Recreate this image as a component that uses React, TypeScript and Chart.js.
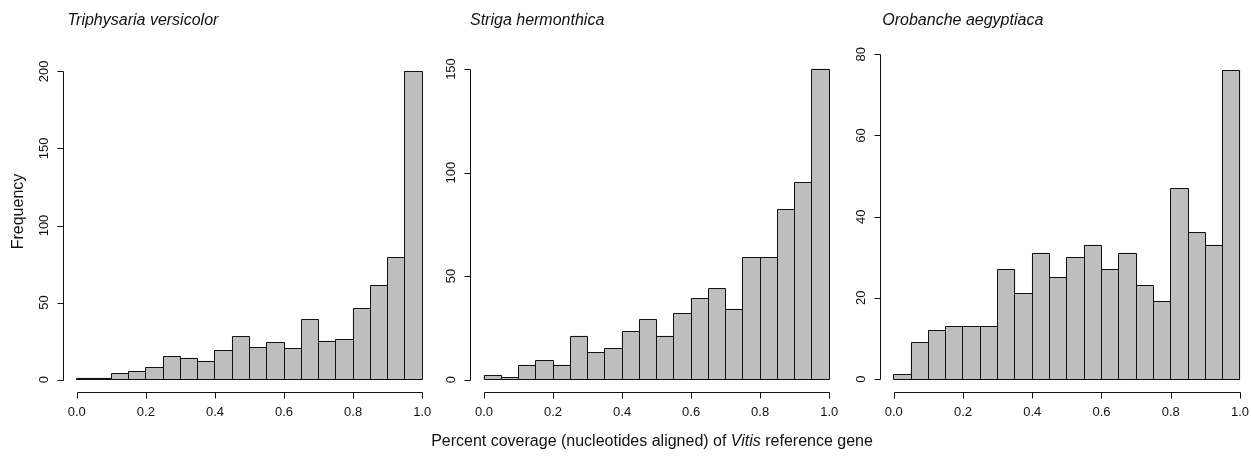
import React, { useEffect, useRef } from "react";
import { Chart, registerables } from "chart.js";

Chart.register(...registerables);

// ---- Data ----
const binCenters = [
  0.025, 0.075, 0.125, 0.175, 0.225, 0.275, 0.325, 0.375, 0.425, 0.475,
  0.525, 0.575, 0.625, 0.675, 0.725, 0.775, 0.825, 0.875, 0.925, 0.975,
];
const triphysariaCounts = [1, 1, 4, 5, 8, 15, 14, 12, 19, 28, 21, 24, 20, 39, 25, 26, 46, 61, 79, 200];
const strigaCounts = [2, 1, 7, 9, 7, 21, 13, 15, 23, 29, 21, 32, 39, 44, 34, 59, 59, 82, 95, 150];
const orobancheCounts = [1, 9, 12, 13, 13, 13, 27, 21, 31, 25, 30, 33, 27, 31, 23, 19, 47, 36, 33, 76];

const xTickValues = [0, 0.2, 0.4, 0.6, 0.8, 1.0];
const xTickLabels = ["0.0", "0.2", "0.4", "0.6", "0.8", "1.0"];
const triphysariaYTicks = [0, 50, 100, 150, 200];
const strigaYTicks = [0, 50, 100, 150];
const orobancheYTicks = [0, 20, 40, 60, 80];

const panelTitles = ["Triphysaria versicolor", "Striga hermonthica", "Orobanche aegyptiaca"];
const yAxisTitle = "Frequency";

// ---- Styling / layout ----
const FONT = '"Liberation Sans", Arial, Helvetica, sans-serif';
const BAR_FILL = "#bebebe";
const INK = "#111111";
const H = 459;

type PanelCfg = {
  title: string;
  counts: number[];
  yTicks: number[];
  left: number;
  width: number;
  pad: { left: number; right: number; top: number; bottom: number };
  titleX: number;
  showYTitle: boolean;
};

const panels: PanelCfg[] = [
  {
    title: panelTitles[0],
    counts: triphysariaCounts,
    yTicks: triphysariaYTicks,
    left: 0,
    width: 440,
    pad: { left: 63, right: 4, top: 59, bottom: 67 },
    titleX: 67.5,
    showYTitle: true,
  },
  {
    title: panelTitles[1],
    counts: strigaCounts,
    yTicks: strigaYTicks,
    left: 440,
    width: 410,
    pad: { left: 30.2, right: 7, top: 56.6, bottom: 67 },
    titleX: 30,
    showYTitle: false,
  },
  {
    title: panelTitles[2],
    counts: orobancheCounts,
    yTicks: orobancheYTicks,
    left: 850,
    width: 410,
    pad: { left: 29.9, right: 6.2, top: 41.3, bottom: 67 },
    titleX: 32.3,
    showYTitle: false,
  },
];

const snap = (v: number) => Math.floor(v + 1e-6) + 0.5;

function Panel({ cfg }: { cfg: PanelCfg }) {
  const ref = useRef<HTMLCanvasElement | null>(null);

  useEffect(() => {
    const canvas = ref.current;
    if (!canvas) return;
    const yTop = cfg.yTicks[cfg.yTicks.length - 1];

    // crisp 1px outlines around the library's bar elements (R hist style)
    const outlinePlugin = {
      id: "barOutline",
      afterDatasetsDraw(chart: any) {
        const ctx = chart.ctx as CanvasRenderingContext2D;
        const meta = chart.getDatasetMeta(0);
        ctx.save();
        ctx.strokeStyle = INK;
        ctx.lineWidth = 1;
        ctx.beginPath();
        meta.data.forEach((bar: any) => {
          const p = bar.getProps(["x", "y", "base", "width"], true);
          const l = snap(p.x - p.width / 2);
          const r = snap(p.x + p.width / 2);
          const t = snap(Math.min(p.y, p.base));
          const b = snap(Math.max(p.y, p.base));
          ctx.rect(l, t, r - l, b - t);
        });
        ctx.stroke();
        ctx.restore();
      },
    };

    const axesPlugin = {
      id: "rAxes",
      afterDraw(chart: any) {
        const ctx = chart.ctx as CanvasRenderingContext2D;
        const xs = chart.scales.x;
        const ys = chart.scales.y;
        const area = chart.chartArea;
        ctx.save();
        ctx.strokeStyle = INK;
        ctx.fillStyle = INK;
        ctx.lineWidth = 1;

        // y axis
        const yx = Math.round(area.left) + 0.5;
        const y0 = Math.round(ys.getPixelForValue(cfg.yTicks[0])) + 0.5;
        const y1 = Math.round(ys.getPixelForValue(yTop)) + 0.5;
        ctx.beginPath();
        ctx.moveTo(yx, y0);
        ctx.lineTo(yx, y1);
        cfg.yTicks.forEach((v) => {
          const py = Math.round(ys.getPixelForValue(v)) + 0.5;
          ctx.moveTo(yx, py);
          ctx.lineTo(yx - 6, py);
        });
        ctx.stroke();
        ctx.font = `13px ${FONT}`;
        ctx.textAlign = "center";
        ctx.textBaseline = "middle";
        cfg.yTicks.forEach((v) => {
          const py = ys.getPixelForValue(v);
          ctx.save();
          ctx.translate(yx - 19.5, py);
          ctx.rotate(-Math.PI / 2);
          ctx.fillText(String(v), 0, 0);
          ctx.restore();
        });

        // x axis
        const xy = Math.round(area.bottom) + 0.5;
        const xa = Math.round(xs.getPixelForValue(xTickValues[0])) + 0.5;
        const xb = Math.round(xs.getPixelForValue(xTickValues[xTickValues.length - 1])) + 0.5;
        ctx.beginPath();
        ctx.moveTo(xa, xy);
        ctx.lineTo(xb, xy);
        xTickValues.forEach((v) => {
          const px = Math.round(xs.getPixelForValue(v)) + 0.5;
          ctx.moveTo(px, xy);
          ctx.lineTo(px, xy + 6);
        });
        ctx.stroke();
        ctx.textBaseline = "middle";
        xTickValues.forEach((v, i) => {
          ctx.fillText(xTickLabels[i], xs.getPixelForValue(v), area.bottom + 20);
        });

        // panel title
        ctx.font = `italic 16px ${FONT}`;
        ctx.textAlign = "left";
        ctx.textBaseline = "alphabetic";
        ctx.fillText(cfg.title, cfg.titleX, 25);

        // y axis title
        if (cfg.showYTitle) {
          ctx.font = `16px ${FONT}`;
          ctx.textAlign = "center";
          ctx.save();
          ctx.translate(23, 211.5);
          ctx.rotate(-Math.PI / 2);
          ctx.fillText(yAxisTitle, 0, 0);
          ctx.restore();
        }
        ctx.restore();
      },
    };

    const chart = new Chart(canvas, {
      type: "bar",
      data: {
        datasets: [
          {
            data: binCenters.map((x, i) => ({ x, y: cfg.counts[i] })),
            backgroundColor: BAR_FILL,
            borderWidth: 0,
            barPercentage: 1,
            categoryPercentage: 1,
          } as any,
        ],
      },
      options: {
        responsive: false,
        animation: false,
        devicePixelRatio: 1,
        layout: { padding: cfg.pad },
        plugins: {
          legend: { display: false },
          tooltip: { enabled: false },
          title: { display: false },
        },
        scales: {
          x: {
            type: "linear",
            display: false,
            offset: false,
            min: -0.04,
            max: 1.04,
            afterBuildTicks: (scale: any) => {
              scale.ticks = xTickValues.map((value) => ({ value }));
            },
          },
          y: {
            type: "linear",
            display: false,
            min: -0.04 * yTop,
            max: 1.04 * yTop,
          },
        },
      },
      plugins: [outlinePlugin, axesPlugin],
    } as any);

    return () => chart.destroy();
  }, [cfg]);

  return (
    <canvas
      ref={ref}
      width={cfg.width}
      height={H}
      style={{ position: "absolute", left: cfg.left, top: 0, width: cfg.width, height: H, display: "block" }}
    />
  );
}

export default function App() {
  return (
    <div
      style={{
        position: "absolute",
        left: 0,
        top: 0,
        width: 1251,
        height: H,
        overflow: "hidden",
        background: "#ffffff",
      }}
    >
      {panels.map((p) => (
        <Panel key={p.title} cfg={p} />
      ))}
      <div
        style={{
          position: "absolute",
          left: 352,
          top: 432.5,
          width: 600,
          textAlign: "center",
          fontFamily: FONT,
          fontSize: 16,
          lineHeight: "16px",
          color: INK,
          whiteSpace: "nowrap",
        }}
      >
        Percent coverage (nucleotides aligned) of <i>Vitis</i> reference gene
      </div>
    </div>
  );
}
